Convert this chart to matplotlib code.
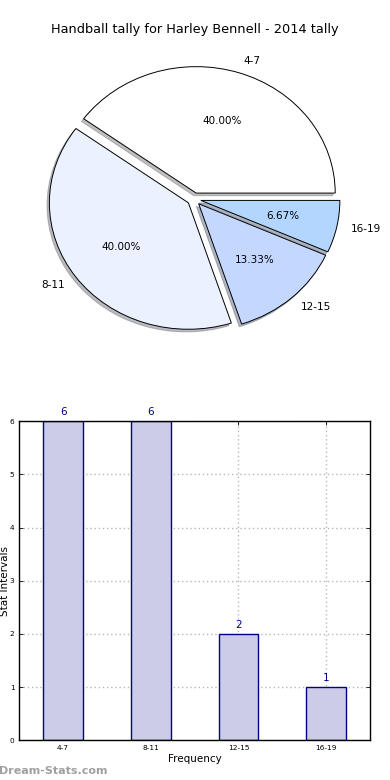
import matplotlib
matplotlib.use('Agg')
import matplotlib.pyplot as plt
import numpy as np

title = 'Handball tally for Harley Bennell - 2014 tally'
intervals = ['4-7', '8-11', '12-15', '16-19']
counts = [6, 6, 2, 1]
pie_colors = ['#ffffff', '#ebf1ff', '#c4d8ff', '#b2d6ff']

fig = plt.figure(figsize=(3.9, 7.8), dpi=100)

# pie on top
ax1 = fig.add_axes([0.1, 0.564, 0.795, 0.3615])
wedges, texts, autotexts = ax1.pie(counts, labels=intervals, colors=pie_colors,
                                   explode=[0.05] * 4, autopct='%.2f%%',
                                   shadow={'ox': -0.012, 'oy': -0.015, 'shade': 0.5},
                                   wedgeprops=dict(edgecolor='black', linewidth=0.7),
                                   textprops=dict(fontsize=7.5))
ax1.set_aspect('auto')
ax1.set_xlim(-1.115, 1.115)
ax1.set_ylim(-1.115, 1.115)
ax1.axis('off')
fig.text(0.5, 1 - 30 / 780, title, ha='center', va='center', fontsize=9.3)

# bars below
ax2 = fig.add_axes([0.0495, 0.0509, 0.899, 0.409])
x = np.arange(len(intervals))
ax2.bar(x, counts, width=0.45, color='#ccccE6', edgecolor='#00008b', linewidth=1, zorder=2)
for xi, c in zip(x, counts):
    ax2.text(xi, c + 0.08, str(c), ha='center', va='bottom', color='#00008b', fontsize=7.5)
ax2.set_xlim(-0.5, 3.5)
ax2.set_ylim(0, 6)
ax2.set_xticks(x)
ax2.set_xticklabels(intervals)
ax2.set_yticks(range(7))
ax2.tick_params(direction='in', labelsize=5.3, length=3, top=True, right=True, width=0.6)
ax2.grid(True, linestyle=(0, (1, 2)), color='#b8b8b8', linewidth=1, zorder=3)
ax2.set_xlabel('Frequency', fontsize=7.5, labelpad=2)
ax2.set_ylabel('Stat Intervals', fontsize=7.5)
ax2.yaxis.set_label_coords((9.5 - 19.3) / (0.899 * 390), 0.5)
for s in ax2.spines.values():
    s.set_linewidth(1)
    s.set_zorder(4)

fig.text(-0.003, 1 - 771 / 780, 'Dream-Stats.com', ha='left', va='center',
         fontsize=8, color='#a0a0a0', fontweight='bold')

fig.savefig('out.png', dpi=100)
